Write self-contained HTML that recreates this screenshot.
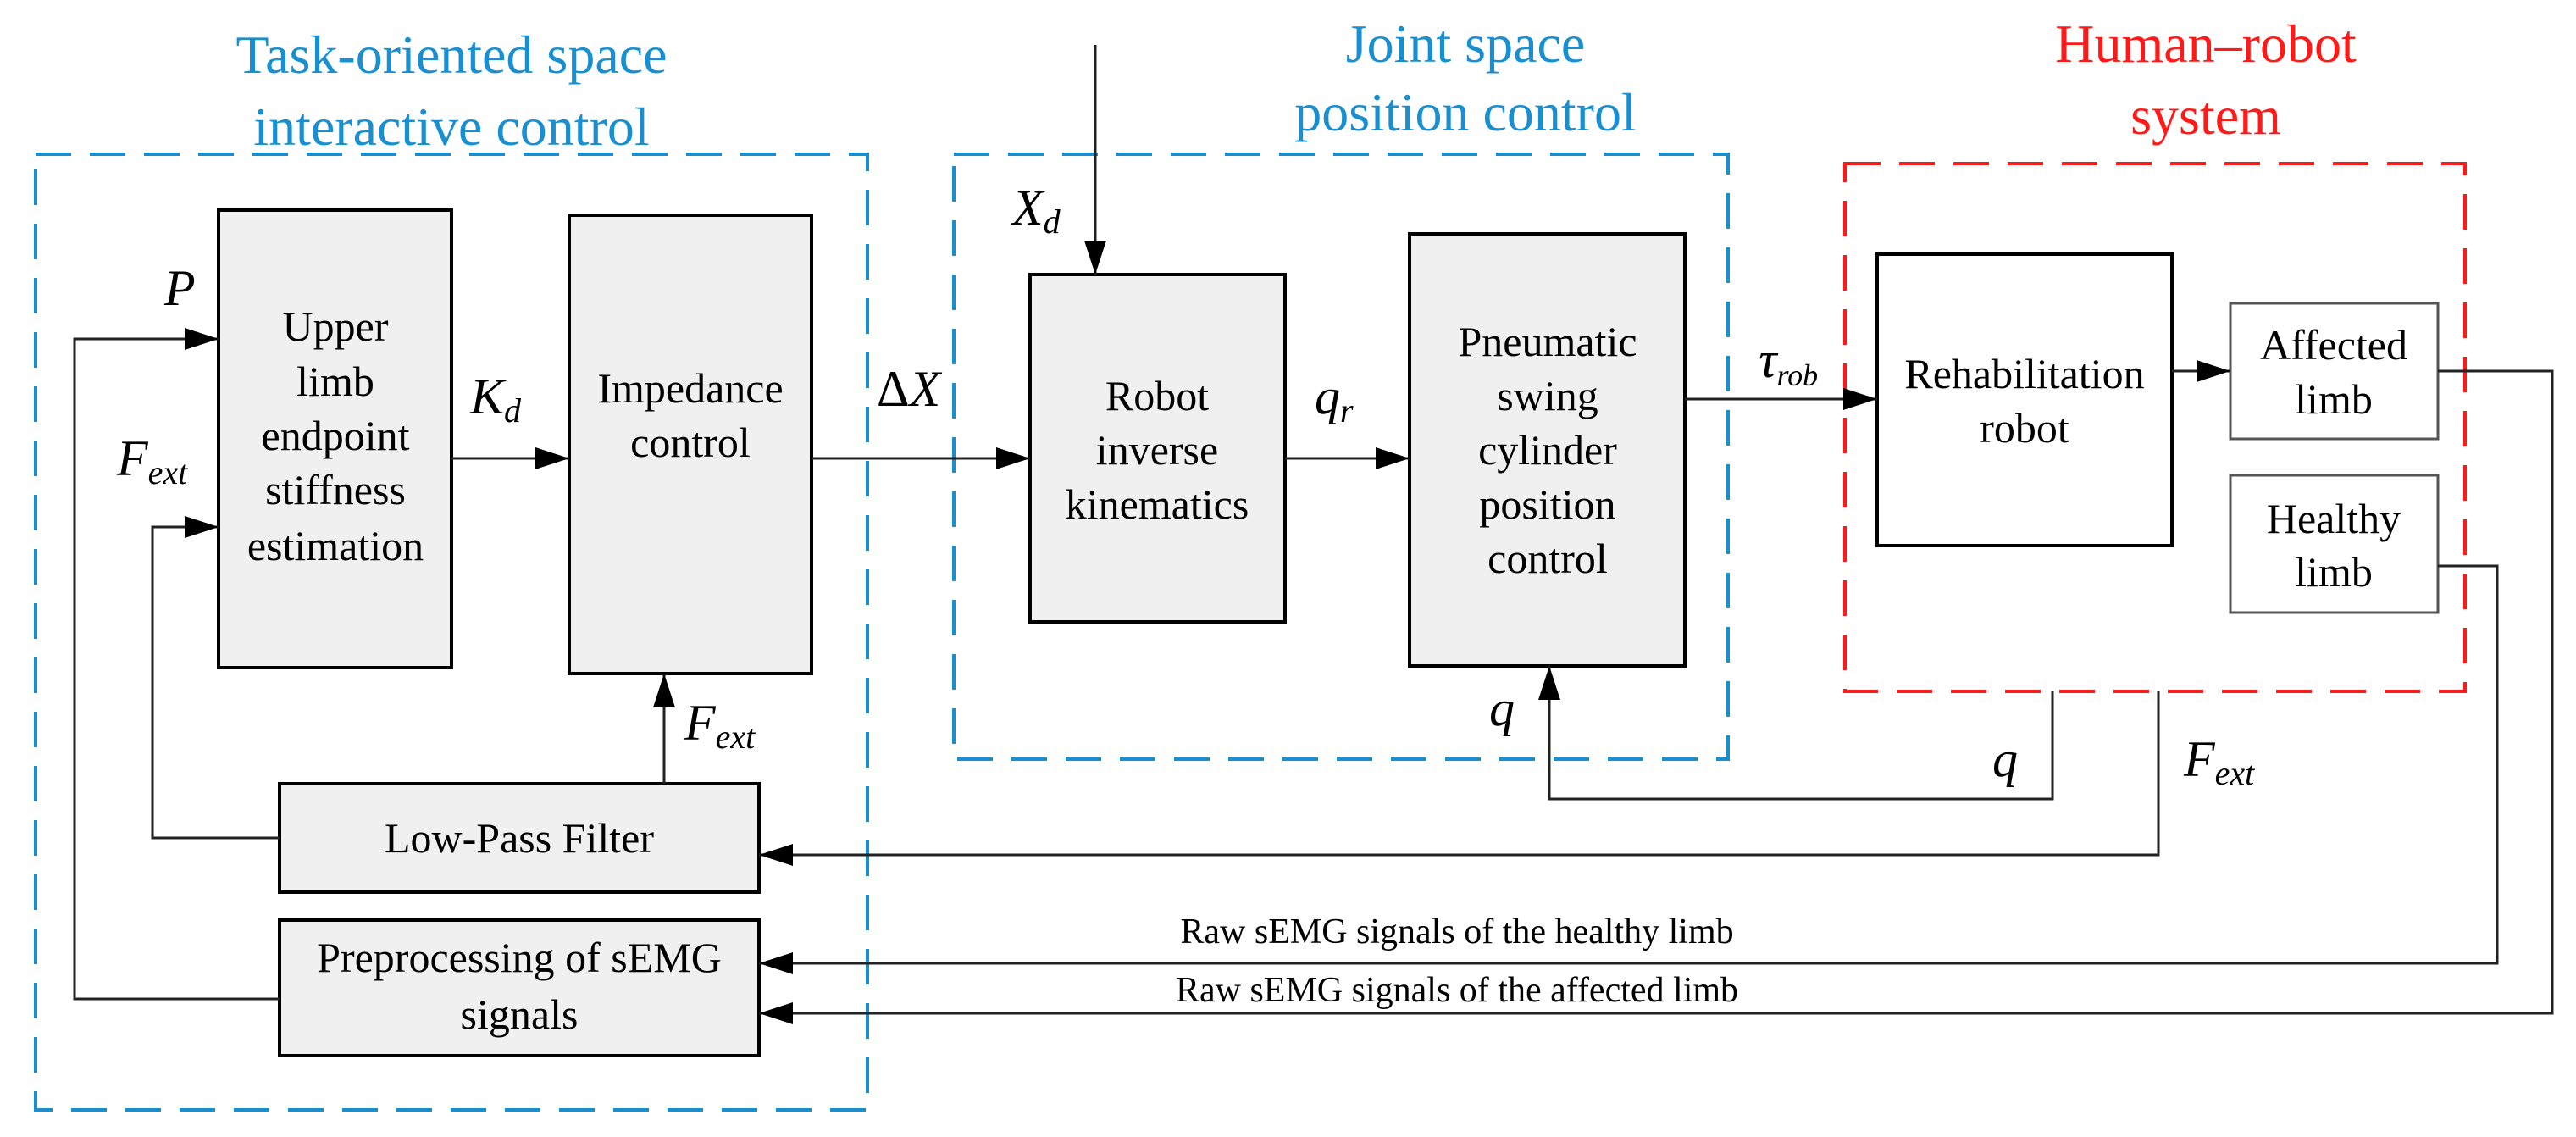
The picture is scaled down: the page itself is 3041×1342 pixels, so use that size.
<!DOCTYPE html>
<html><head><meta charset="utf-8"><style>html,body{margin:0;padding:0;background:#fff}svg{display:block}svg text{font-family:"Liberation Serif",serif}</style></head>
<body>
<svg width="3041" height="1342" viewBox="0 0 3041 1342" xmlns="http://www.w3.org/2000/svg">
<defs>
<marker id="a" markerWidth="40" markerHeight="26" refX="40" refY="13" orient="auto" markerUnits="userSpaceOnUse"><path d="M0,0 L40,13 L0,26 z" fill="#000"/></marker>
</defs>
<g fill="none" stroke-width="4" stroke-dasharray="42,22">
<rect x="42" y="182" width="982" height="1128" stroke="#1a8fd0"/>
<rect x="1126" y="182" width="914" height="714" stroke="#1a8fd0"/>
<rect x="2178" y="193" width="732" height="623" stroke="#ff1a1a"/>
</g>
<g font-size="64" text-anchor="middle" fill="#1a8fd0">
<text x="533" y="86">Task-oriented space</text>
<text x="533" y="171">interactive control</text>
<text x="1730" y="73">Joint space</text>
<text x="1730" y="154">position control</text>
</g>
<g font-size="64" text-anchor="middle" fill="#ff1a1a">
<text x="2604" y="73">Human–robot</text>
<text x="2604" y="158">system</text>
</g>
<g stroke="#000" stroke-width="4" fill="#f0f0f0">
<rect x="258" y="248" width="275" height="540"/>
<rect x="672" y="254" width="286" height="541"/>
<rect x="1216" y="324" width="301" height="410"/>
<rect x="1664" y="276" width="325" height="510"/>
<rect x="330" y="925" width="566" height="128"/>
<rect x="330" y="1086" width="566" height="160"/>
<rect x="2216" y="300" width="348" height="344" fill="#fff"/>
</g>
<g stroke="#555" stroke-width="3" fill="#fff">
<rect x="2633" y="358" width="245" height="160"/>
<rect x="2633" y="561" width="245" height="162"/>
</g>
<g font-size="50" text-anchor="middle" fill="#000">
<text x="396" y="402">Upper</text><text x="396" y="467">limb</text><text x="396" y="531">endpoint</text><text x="396" y="595">stiffness</text><text x="396" y="661">estimation</text>
<text x="815" y="475">Impedance</text><text x="815" y="539">control</text>
<text x="1366" y="484">Robot</text><text x="1366" y="548">inverse</text><text x="1366" y="612">kinematics</text>
<text x="1827" y="420">Pneumatic</text><text x="1827" y="484">swing</text><text x="1827" y="548">cylinder</text><text x="1827" y="612">position</text><text x="1827" y="676">control</text>
<text x="613" y="1006">Low-Pass Filter</text>
<text x="613" y="1147">Preprocessing of sEMG</text><text x="613" y="1214">signals</text>
<text x="2390" y="458">Rehabilitation</text><text x="2390" y="522">robot</text>
<text x="2755" y="424">Affected</text><text x="2755" y="488">limb</text>
<text x="2755" y="629">Healthy</text><text x="2755" y="692">limb</text>
</g>
<g font-size="42" text-anchor="middle" fill="#000">
<text x="1720" y="1113">Raw sEMG signals of the healthy limb</text>
<text x="1720" y="1182">Raw sEMG signals of the affected limb</text>
</g>
<g stroke="#222" stroke-width="3" fill="none">
<path d="M330,1179 H88 V400 H258" marker-end="url(#a)"/>
<path d="M330,989 H180 V622 H258" marker-end="url(#a)"/>
<path d="M533,541 H672" marker-end="url(#a)"/>
<path d="M784,925 V795" marker-end="url(#a)"/>
<path d="M958,541 H1216" marker-end="url(#a)"/>
<path d="M1293,53 V324" marker-end="url(#a)"/>
<path d="M1517,541 H1664" marker-end="url(#a)"/>
<path d="M1989,471 H2216" marker-end="url(#a)"/>
<path d="M2564,438 H2633" marker-end="url(#a)"/>
<path d="M2423,816 V943 H1829 V786" marker-end="url(#a)"/>
<path d="M2548,816 V1009 H896" marker-end="url(#a)"/>
<path d="M2878,668 H2948 V1137 H896" marker-end="url(#a)"/>
<path d="M2878,438 H3013 V1196 H896" marker-end="url(#a)"/>
</g>
<g font-style="italic" fill="#000" font-size="60">
<text x="194" y="360">P</text>
<text x="138" y="561">F<tspan font-size="40" dy="10">ext</tspan></text>
<text x="555" y="488">K<tspan font-size="40" dy="10">d</tspan></text>
<text x="808" y="873">F<tspan font-size="40" dy="10">ext</tspan></text>
<text x="1035" y="479" font-style="normal">Δ<tspan font-style="italic">X</tspan></text>
<text x="1195" y="265">X<tspan font-size="40" dy="10">d</tspan></text>
<text x="1552" y="488">q<tspan font-size="40" dy="10">r</tspan></text>
<text x="1758" y="856">q</text>
<text x="2076" y="445">τ<tspan font-size="36" dy="10">rob</tspan></text>
<text x="2352" y="916">q</text>
<text x="2578" y="916">F<tspan font-size="40" dy="10">ext</tspan></text>
</g>
</svg>
</body></html>
